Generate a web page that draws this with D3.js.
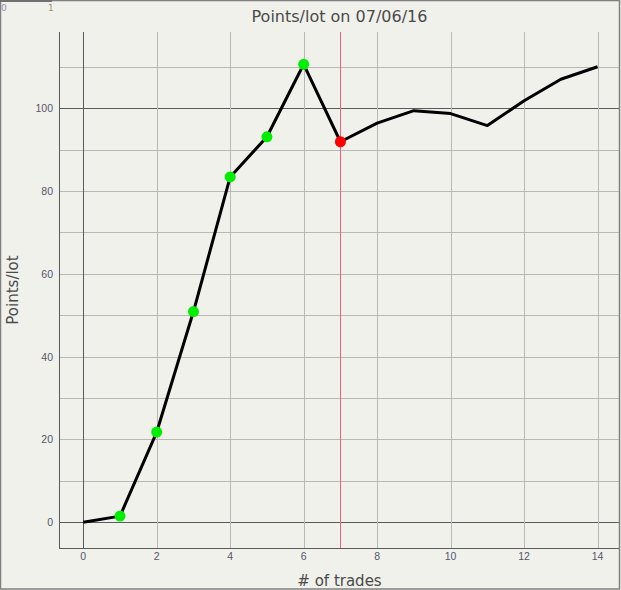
<!DOCTYPE html>
<html><head><meta charset="utf-8">
<script src="https://cdn.jsdelivr.net/npm/d3@7"></script>
<style>
html,body{margin:0;padding:0;background:#f1f1ec;}
svg{display:block;}
text{font-family:"DejaVu Sans",Verdana,sans-serif;}
</style></head>
<body><div id="chart"></div>
<script>
const title = "Points/lot on 07/06/16";
const xLabel = "# of trades";
const yLabel = "Points/lot";
const trades = [0,1,2,3,4,5,6,7,8,9,10,11,12,13,14];
const points = [0,1.5,21.8,50.9,83.4,93.1,110.6,91.9,96.4,99.4,98.7,95.8,101.8,107,110];
const greenIdx = [1,2,3,4,5,6];
const redIdx = [7];
const markerX = 7;
const xTicks = [0,2,4,6,8,10,12,14];
const yTicks = [0,20,40,60,80,100];
const yGrid = [0,10,20,30,40,50,60,70,80,90,100,110];

const W=621,H=590;
const svg=d3.select("#chart").append("svg").attr("width",W).attr("height",H);
svg.append("rect").attr("x",0).attr("y",0).attr("width",W).attr("height",H).attr("fill","#f1f1ec");

const L=59,R=620,T=32,B=548;
const x=d3.scaleLinear().domain([-0.66,14.61]).range([L,R]);
const y=d3.scaleLinear().domain([-6.2,118.4]).range([B,T]);

// horizontal grid
svg.append("g").selectAll("line").data(yGrid).join("line")
 .attr("x1",L).attr("x2",R).attr("y1",d=>Math.round(y(d))+0.5).attr("y2",d=>Math.round(y(d))+0.5)
 .attr("stroke",d=>(d===0||d===100)?"#5a5a5a":"#b8b8b4").attr("stroke-width",1);
// vertical grid
svg.append("g").selectAll("line").data(xTicks).join("line")
 .attr("y1",T).attr("y2",B).attr("x1",d=>Math.round(x(d))+0.5).attr("x2",d=>Math.round(x(d))+0.5)
 .attr("stroke",d=>d===0?"#5a5a5a":"#b8b8b4").attr("stroke-width",1);
// axes lines
svg.append("line").attr("x1",L+0.5).attr("x2",L+0.5).attr("y1",T).attr("y2",B).attr("stroke","#5a5a5a");
svg.append("line").attr("x1",L).attr("x2",R).attr("y1",B+0.5).attr("y2",B+0.5).attr("stroke","#5a5a5a");

// tick labels
svg.append("g").selectAll("text").data(xTicks).join("text")
 .attr("x",d=>x(d)).attr("y",560).attr("text-anchor","middle")
 .style("font-family","'Liberation Sans',Arial,sans-serif")
 .attr("font-size",10.5).attr("fill","#55556e").text(d=>d);
svg.append("g").selectAll("text").data(yTicks).join("text")
 .attr("x",53).attr("y",d=>y(d)+4).attr("text-anchor","end")
 .style("font-family","'Liberation Sans',Arial,sans-serif")
 .attr("font-size",10.5).attr("fill","#55556e").text(d=>d);

// red marker line
svg.append("line").attr("x1",Math.round(x(markerX))+0.5).attr("x2",Math.round(x(markerX))+0.5)
 .attr("y1",T).attr("y2",B).attr("stroke","#ff5a78").attr("stroke-width",1);

// line
const data=trades.map((t,i)=>({t,v:points[i]}));
svg.append("path").datum(data)
 .attr("d",d3.line().x(d=>x(d.t)).y(d=>y(d.v)))
 .attr("fill","none").attr("stroke","#000").attr("stroke-width",3).attr("stroke-linejoin","round");

svg.append("g").selectAll("circle").data(greenIdx).join("circle")
 .attr("cx",i=>x(trades[i])).attr("cy",i=>y(points[i])).attr("r",5.5).attr("fill","#00ee00");
svg.append("g").selectAll("circle").data(redIdx).join("circle")
 .attr("cx",i=>x(trades[i])).attr("cy",i=>y(points[i])).attr("r",5.5).attr("fill","#ff0000");

// titles
svg.append("text").attr("x",(L+R)/2).attr("y",22).attr("text-anchor","middle")
 .attr("font-size",16).attr("fill","#4a4a4a").text(title);
svg.append("text").attr("x",(L+R)/2).attr("y",586).attr("text-anchor","middle")
 .attr("font-size",15).attr("fill","#4a4a4a").text(xLabel);
svg.append("text").attr("transform",`translate(18,${(T+B)/2}) rotate(-90)`).attr("text-anchor","middle")
 .attr("font-size",15).attr("fill","#4a4a4a").text(yLabel);

// border
svg.append("rect").attr("x",0.5).attr("y",0.5).attr("width",W-2).attr("height",H-1.5)
 .attr("fill","none").attr("stroke","#808080").attr("stroke-width",1.5);
svg.append("line").attr("x1",0).attr("x2",52).attr("y1",1).attr("y2",1).attr("stroke","#707070").attr("stroke-width",2);
svg.append("text").attr("x",1).attr("y",11).attr("font-size",9).attr("fill","#9090a8").text("0");
svg.append("text").attr("x",48).attr("y",11).attr("font-size",9).attr("fill","#a09070").text("1");
</script></body></html>
